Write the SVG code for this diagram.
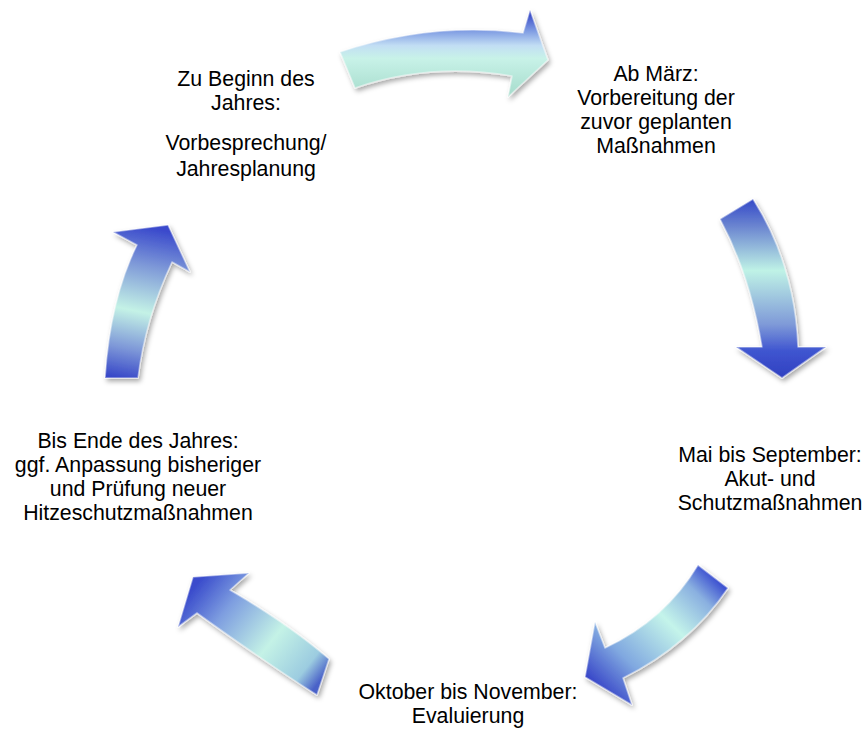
<svg xmlns="http://www.w3.org/2000/svg" width="867" height="731" viewBox="0 0 867 731">
<style>
.t{font-family:"Liberation Sans",Arial,sans-serif;font-size:21.3px;fill:#000;text-anchor:middle}
.bev{fill:none;stroke:#ffffff;stroke-opacity:0.45;stroke-width:1.6;stroke-linejoin:round}
</style>
<defs>
<filter id="sh" x="-20%" y="-20%" width="140%" height="140%">
<feDropShadow dx="2" dy="3" stdDeviation="2.5" flood-color="#000" flood-opacity="0.35"/>
</filter>
<linearGradient id="g1" gradientUnits="userSpaceOnUse" x1="0" y1="12" x2="0" y2="96">
<stop offset="0" stop-color="#3040c4"/><stop offset="0.22" stop-color="#7d9ae2"/><stop offset="0.4" stop-color="#c2def4"/><stop offset="0.55" stop-color="#c8f2e8"/><stop offset="1" stop-color="#a6dccc"/>
</linearGradient>
<linearGradient id="g2" gradientUnits="userSpaceOnUse" x1="0" y1="199" x2="0" y2="378">
<stop offset="0" stop-color="#3348c8"/><stop offset="0.15" stop-color="#6a84d0"/><stop offset="0.4" stop-color="#bff2e6"/><stop offset="0.7" stop-color="#7f9ad8"/><stop offset="0.85" stop-color="#3f55d0"/><stop offset="1" stop-color="#3040c0"/>
</linearGradient>
<linearGradient id="g3" gradientUnits="userSpaceOnUse" x1="713" y1="575" x2="600" y2="690">
<stop offset="0" stop-color="#3a4ed0"/><stop offset="0.15" stop-color="#8ab0e0"/><stop offset="0.4" stop-color="#c4f4ea"/><stop offset="0.75" stop-color="#80a8e0"/><stop offset="1" stop-color="#3846c8"/>
</linearGradient>
<linearGradient id="g4" gradientUnits="userSpaceOnUse" x1="323" y1="677" x2="200" y2="580">
<stop offset="0" stop-color="#4a62c8"/><stop offset="0.12" stop-color="#9ccce0"/><stop offset="0.4" stop-color="#c4f2e6"/><stop offset="0.75" stop-color="#7e9ee0"/><stop offset="1" stop-color="#3a4ccc"/>
</linearGradient>
<linearGradient id="g5" gradientUnits="userSpaceOnUse" x1="120" y1="378" x2="150" y2="228">
<stop offset="0" stop-color="#3848c8"/><stop offset="0.2" stop-color="#7e98d8"/><stop offset="0.45" stop-color="#c4f2e6"/><stop offset="0.75" stop-color="#7f9ad8"/><stop offset="1" stop-color="#3a4acc"/>
</linearGradient>
</defs>
<g id="connectors">
<g id="arrow-top" filter="url(#sh)">
<path fill="url(#g1)" d="M340,52 Q430,22 523,33 L530,10 L548,60 L508,97 L512,76 Q430,62 355,88 Z"/>
<path class="bev" d="M340,52 Q430,22 523,33 L530,10 L548,60 L508,97 L512,76 Q430,62 355,88 Z"/>
</g>
<g id="arrow-right" filter="url(#sh)">
<path fill="url(#g2)" d="M720,219 L753,199 Q795,265 798,347 L826,347 L782,378 L736,347 L762,347 Q750,275 720,219 Z"/>
<path class="bev" d="M720,219 L753,199 Q795,265 798,347 L826,347 L782,378 L736,347 L762,347 Q750,275 720,219 Z"/>
</g>
<g id="arrow-bottom-right" filter="url(#sh)">
<path fill="url(#g3)" d="M698,565 L728,588 Q690,645 623,678 L632,705 L585,677 L595,622 L605,648 Q665,620 698,565 Z"/>
<path class="bev" d="M698,565 L728,588 Q690,645 623,678 L632,705 L585,677 L595,622 L605,648 Q665,620 698,565 Z"/>
</g>
<g id="arrow-bottom-left" filter="url(#sh)">
<path fill="url(#g4)" d="M193,577 L249,573 L230,590 Q290,625 329,659 L317,695 Q262,660 197,613 L178,627 Z"/>
<path class="bev" d="M193,577 L249,573 L230,590 Q290,625 329,659 L317,695 Q262,660 197,613 L178,627 Z"/>
</g>
<g id="arrow-left" filter="url(#sh)">
<path fill="url(#g5)" d="M105,378 Q110,300 137,245 L113,232 L168,225 L190,272 L172,262 Q145,320 138,378 Z"/>
<path class="bev" d="M105,378 Q110,300 137,245 L113,232 L168,225 L190,272 L172,262 Q145,320 138,378 Z"/>
</g>
</g>
<g id="node-beginn">
<text class="t" x="246" y="86">Zu Beginn des</text>
<text class="t" x="246" y="110">Jahres:</text>
<text class="t" x="246" y="150">Vorbesprechung/</text>
<text class="t" x="246" y="176">Jahresplanung</text>
</g>
<g id="node-maerz">
<text class="t" x="656" y="81">Ab März:</text>
<text class="t" x="656" y="105">Vorbereitung der</text>
<text class="t" x="656" y="129">zuvor geplanten</text>
<text class="t" x="656" y="153">Maßnahmen</text>
</g>
<g id="node-mai">
<text class="t" x="770" y="462">Mai bis September:</text>
<text class="t" x="770" y="486">Akut- und</text>
<text class="t" x="770" y="510">Schutzmaßnahmen</text>
</g>
<g id="node-oktober">
<text class="t" x="468" y="699">Oktober bis November:</text>
<text class="t" x="468" y="723">Evaluierung</text>
</g>
<g id="node-ende">
<text class="t" x="138" y="448">Bis Ende des Jahres:</text>
<text class="t" x="138" y="472">ggf. Anpassung bisheriger</text>
<text class="t" x="138" y="496">und Prüfung neuer</text>
<text class="t" x="138" y="520">Hitzeschutzmaßnahmen</text>
</g>
</svg>
